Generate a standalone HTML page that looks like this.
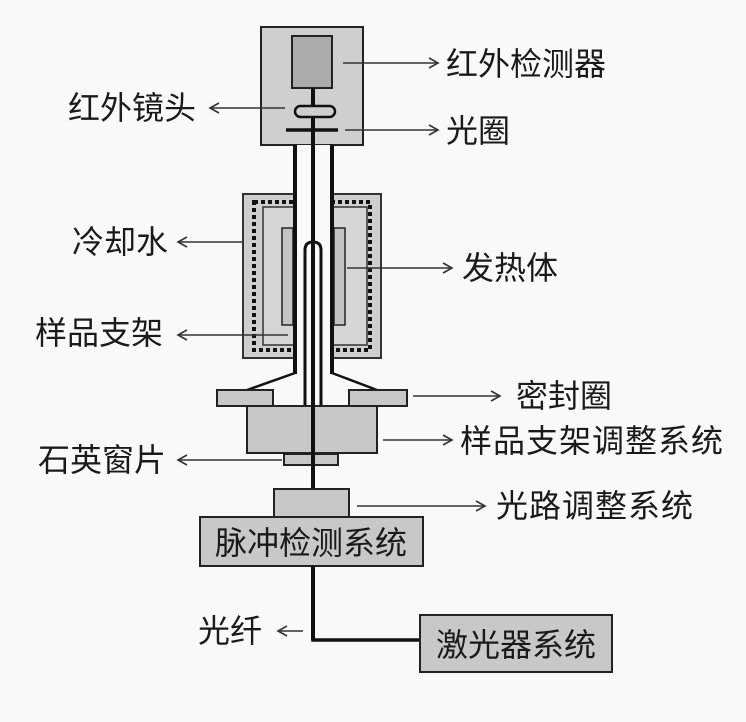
<!DOCTYPE html>
<html><head><meta charset="utf-8"><style>
html,body{margin:0;padding:0;background:#f9f9f9;}
svg{display:block}
text{font-family:"Liberation Sans","Noto Sans CJK SC",sans-serif;font-size:32px;fill:#1a1a1a;dominant-baseline:central}
</style></head><body>
<svg width="746" height="722" viewBox="0 0 746 722" xmlns="http://www.w3.org/2000/svg">
<defs>
<marker id="ar" markerWidth="12" markerHeight="12" refX="10" refY="6" orient="auto" markerUnits="userSpaceOnUse">
<path d="M1,1 L10,6 L1,11" fill="none" stroke="#333" stroke-width="1.6"/>
</marker>
</defs>
<rect width="746" height="722" fill="#f9f9f9"/>
<rect x="261" y="27" width="102" height="118" fill="#cfcfcf" stroke="#222" stroke-width="2"/>
<rect x="292" y="36" width="40" height="52" fill="#ababab" stroke="#222" stroke-width="2"/>
<rect x="243" y="194" width="138" height="164" fill="#cfcfcf" stroke="#333" stroke-width="2"/>
<rect x="254" y="202" width="116" height="148" fill="none" stroke="#111" stroke-width="4" stroke-dasharray="4,3"/>
<rect x="263" y="207" width="104" height="138" fill="#d6d6d6" stroke="#333" stroke-width="1.5"/>
<rect x="282" y="228" width="11" height="97" fill="#c4c4c4" stroke="#222" stroke-width="1.5"/>
<rect x="334" y="228" width="11" height="97" fill="#c4c4c4" stroke="#222" stroke-width="1.5"/>
<rect x="296" y="145" width="35" height="230" fill="#f9f9f9"/>
<line x1="295" y1="145" x2="295" y2="374" stroke="#111" stroke-width="4"/>
<line x1="332" y1="145" x2="332" y2="374" stroke="#111" stroke-width="4"/>
<path d="M295,373 L247,390 M332,373 L377,390" stroke="#111" stroke-width="2.5" fill="none"/>
<path d="M305,406 L305,250 Q305,242 313,242 Q321,242 321,250 L321,406" fill="none" stroke="#111" stroke-width="3"/>
<line x1="313" y1="88" x2="313" y2="640" stroke="#111" stroke-width="4"/>
<rect x="295" y="106" width="40" height="11" rx="5.5" fill="#cfcfcf" stroke="#111" stroke-width="2.5"/>
<line x1="286" y1="130" x2="338" y2="130" stroke="#111" stroke-width="3.5"/>
<rect x="217" y="390" width="56" height="16" fill="#c8c8c8" stroke="#222" stroke-width="2"/>
<rect x="349" y="390" width="58" height="16" fill="#c8c8c8" stroke="#222" stroke-width="2"/>
<rect x="247" y="406" width="130" height="47" fill="#c8c8c8" stroke="#222" stroke-width="2"/>
<rect x="284" y="454" width="54" height="11" fill="#c8c8c8" stroke="#222" stroke-width="2"/>
<line x1="313" y1="403" x2="313" y2="489" stroke="#111" stroke-width="4"/>
<rect x="274" y="489" width="75" height="28" fill="#c8c8c8" stroke="#222" stroke-width="2"/>
<rect x="200" y="517" width="223" height="49" fill="#c8c8c8" stroke="#222" stroke-width="2"/>
<text x="311" y="543" text-anchor="middle">脉冲检测系统</text>
<path d="M313,566 L313,640 L420,640" stroke="#111" stroke-width="3.5" fill="none"/>
<rect x="420" y="615" width="192" height="57" fill="#c8c8c8" stroke="#222" stroke-width="2"/>
<text x="516" y="645" text-anchor="middle">激光器系统</text>
<g stroke="#333" stroke-width="1.6" marker-end="url(#ar)">
<line x1="343" y1="63" x2="438" y2="63"/>
<line x1="285" y1="108" x2="210" y2="108"/>
<line x1="345" y1="130" x2="438" y2="130"/>
<line x1="244" y1="242" x2="178" y2="242"/>
<line x1="347" y1="268" x2="452" y2="268"/>
<line x1="288" y1="335" x2="178" y2="335"/>
<line x1="413" y1="396" x2="500" y2="396"/>
<line x1="383" y1="440" x2="452" y2="440"/>
<line x1="282" y1="460" x2="178" y2="460"/>
<line x1="357" y1="506" x2="485" y2="506"/>
<line x1="303" y1="631" x2="278" y2="631"/>
</g>
<text x="446" y="64">红外检测器</text>
<text x="68" y="108">红外镜头</text>
<text x="446" y="131">光圈</text>
<text x="72" y="242">冷却水</text>
<text x="462" y="268">发热体</text>
<text x="35" y="333">样品支架</text>
<text x="516" y="396">密封圈</text>
<text x="460" y="441" style="letter-spacing:1px">样品支架调整系统</text>
<text x="38" y="460">石英窗片</text>
<text x="496" y="506" style="letter-spacing:1px">光路调整系统</text>
<text x="198" y="631">光纤</text>
</svg>
</body></html>
